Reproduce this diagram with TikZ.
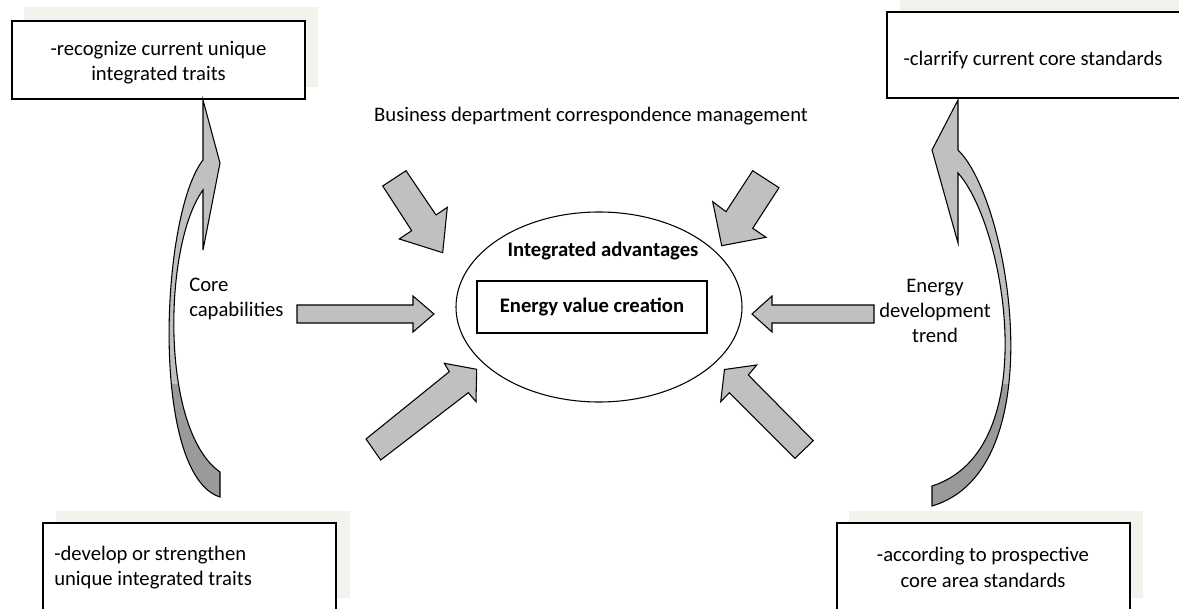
\documentclass[tikz,border=0pt]{standalone}
\usepackage{fontspec}
\setmainfont{Carlito}
\usetikzlibrary{shapes.geometric}
\definecolor{shadowc}{HTML}{F3F2EC}
\definecolor{afill}{HTML}{C0C0C0}
\definecolor{adark}{HTML}{9A9A9A}
\begin{document}
\begin{tikzpicture}[x=0.75pt,y=-0.75pt,
  lbl/.style={font=\fontsize{15.5}{19}\selectfont, inner sep=0pt},
  boldlbl/.style={font=\fontsize{15.5}{19}\selectfont\bfseries, inner sep=0pt},
  frame/.style={draw, line width=1.1pt, fill=white, inner sep=0pt},
  shadowrect/.style={fill=shadowc},
  blockarrow/.style={fill=afill, draw=black, line width=0.8pt, line join=miter},
  curvedline/.style={draw=black, line width=0.8pt, line join=miter},
  leftcurve/.style={insert path={(203,100) -- (220,163) -- (203,250) -- (203,190)
      .. controls (163,245) and (160,430) .. (220,472) -- (220,497)
      .. controls (150,475) and (160,215) .. (203,160) -- cycle}},
  rightcurve/.style={insert path={(958,100) -- (932,150) -- (958,243) -- (958,173)
      .. controls (1005,225) and (1045,450) .. (932,486) -- (932,506)
      .. controls (1055,470) and (1010,200) .. (958,150) -- cycle}},
]
\useasboundingbox (0,0) rectangle (1179,609);
\clip (0,0) rectangle (1179,609);
\fill[white] (0,0) rectangle (1179,609);

% shadows
\fill[shadowrect] (24,7) rectangle (318,87);
\fill[shadowrect] (900,0) rectangle (1179,86);
\fill[shadowrect] (56,511) rectangle (350,598);
\fill[shadowrect] (849,511) rectangle (1143,598);

% boxes
\node[frame, minimum width=219.75pt, minimum height=58.5pt] (tl) at (158.5,60) {};
\node[lbl, align=center] (tltext) at (158.5,63) {-recognize current unique\\integrated traits};
\node[frame, minimum width=220.5pt, minimum height=64.5pt] (tr) at (1034,55) {};
\node[lbl, align=center] (trtext) at (1033,60) {-clarrify current core standards};
\node[frame, minimum width=219.75pt, minimum height=69pt] (bl) at (189.5,569) {};
\node[lbl, align=left, anchor=west] (bltext) at (54,567.5) {-develop or strengthen\\unique integrated traits};
\node[frame, minimum width=219.75pt, minimum height=69pt] (br) at (983.5,569) {};
\node[lbl, align=center] (brtext) at (983,567.5) {-according to prospective\\core area standards};

% title
\node[lbl] (title) at (591,116) {Business department correspondence management};

% centre
\node[draw, ellipse, line width=0.8pt, inner sep=0pt, minimum width=214.5pt, minimum height=142.5pt] (ell) at (599,307) {};
\node[boldlbl] (adv) at (603,251) {Integrated advantages};
\node[frame, minimum width=172.5pt, minimum height=39pt] (evc) at (592,307) {};
\node[boldlbl] (evctext) at (592,307) {Energy value creation};

% side texts
\node[lbl, align=left, anchor=west] (core) at (189,299) {Core\\capabilities};
\node[lbl, align=center] (trend) at (935,311) {Energy\\development\\trend};

% straight block arrows
\draw[blockarrow] (297,305) -- (413,305) -- (413,296) -- (434,314) -- (413,332) -- (413,323) -- (297,323) -- cycle;
\draw[blockarrow] (874,305) -- (772,305) -- (772,296) -- (752,314) -- (772,332) -- (772,323) -- (874,323) -- cycle;
\draw[blockarrow] (382.7,186) -- (406,170.7) -- (436,215) -- (447.3,207.3) -- (442.7,252.7) -- (399.3,239) -- (411.7,230.7) -- cycle;
\draw[blockarrow] (752.7,170.7) -- (779,187.7) -- (752.7,228.3) -- (766,237.3) -- (721.7,245.7) -- (712.7,201.7) -- (726,211.7) -- cycle;
\draw[blockarrow] (366,439) -- (449.3,371.7) -- (444.3,363.3) -- (476.7,369.3) -- (476,401.7) -- (468.3,392.7) -- (380.7,460) -- cycle;
\draw[blockarrow] (813.3,440.7) -- (748.3,375) -- (756.7,365) -- (724.5,369.5) -- (720.7,401.7) -- (729.3,392.7) -- (795,458.3) -- cycle;

% curved arrows
\fill[afill, leftcurve];
\begin{scope}
  \clip (0,385) rectangle (1179,609);
  \fill[adark, leftcurve];
\end{scope}
\path[curvedline, leftcurve];
\fill[afill, rightcurve];
\begin{scope}
  \clip (0,385) rectangle (1179,609);
  \fill[adark, rightcurve];
\end{scope}
\path[curvedline, rightcurve];
\end{tikzpicture}
\end{document}
